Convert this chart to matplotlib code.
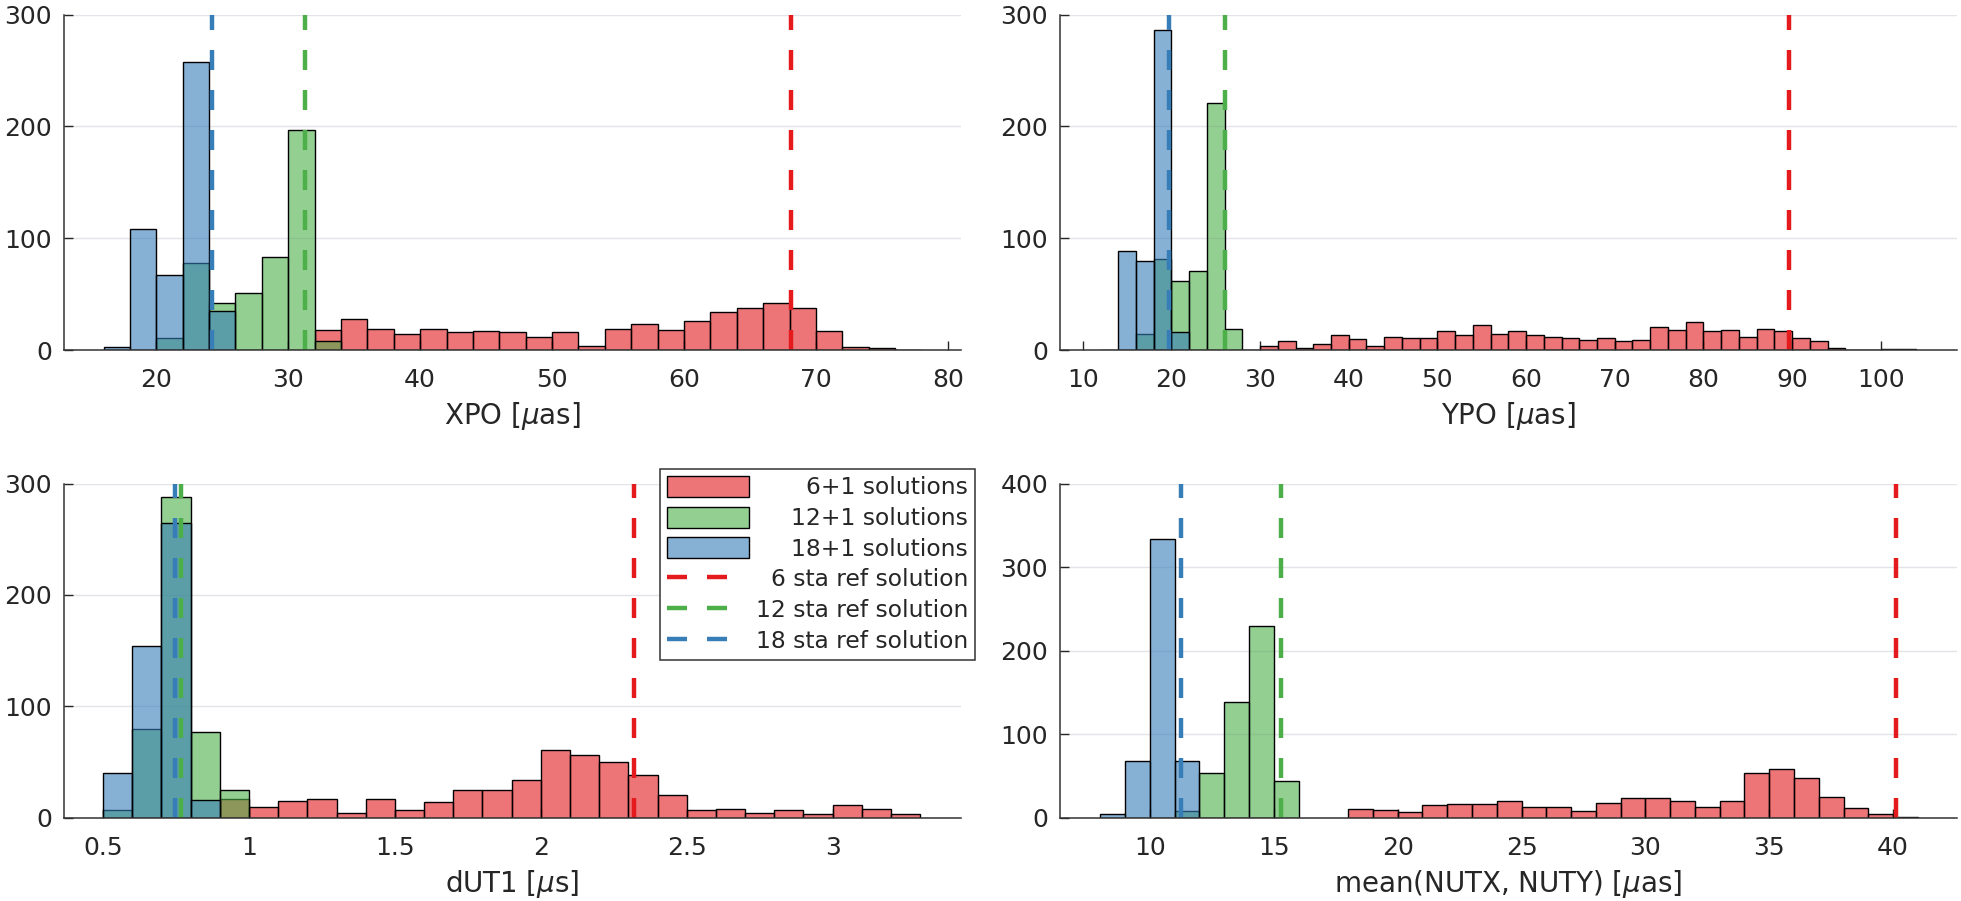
import numpy as np
import matplotlib
matplotlib.use('Agg')
import matplotlib.pyplot as plt
import matplotlib.ticker as ticker
import matplotlib.patches as mpatches
from matplotlib.colors import to_rgba
from matplotlib.legend_handler import HandlerPatch

plt.rcParams['font.family'] = ['DejaVu Sans']
plt.rcParams['mathtext.fontset'] = 'dejavusans'

red, green, blue = '#e41a1c', '#4daf4a', '#377eb8'
ink = '#262626'

# XPO [muas], bins of 2
xpo_bin = 2
xpo_red_start, xpo_green_start, xpo_blue_start = 32, 20, 16
xpo_red = [18, 28, 19, 14, 19, 16, 17, 16, 12, 16, 4, 19, 23, 18, 26, 34, 38, 42,
           38, 17, 3, 2, 0]
xpo_green = [11, 78, 42, 51, 83, 197, 8]
xpo_blue = [3, 108, 67, 258, 35]
xpo_refs = [68.14, 31.26, 24.2]

# YPO [muas], bins of 2
ypo_bin = 2
ypo_red_start, ypo_green_start, ypo_blue_start = 30, 16, 12
ypo_red = [4, 8, 2, 5, 13, 10, 4, 12, 11, 11, 17, 13, 22, 14, 17, 13, 12, 11, 9,
           11, 8, 9, 21, 18, 25, 17, 18, 12, 19, 17, 11, 8, 2, 0, 0, 1, 1]
ypo_green = [14, 81, 62, 71, 221, 19, 0]
ypo_blue = [0, 89, 80, 286, 16]
ypo_refs = [89.66, 26.02, 19.77]

# dUT1 [mus], bins of 0.1
dut_bin = 0.1
dut_red_start, dut_green_start, dut_blue_start = 0.9, 0.5, 0.5
dut_red = [17, 10, 15, 17, 4, 17, 7, 14, 25, 25, 34, 61, 56, 50, 38, 20, 7, 8, 4,
           7, 3, 11, 8, 3]
dut_green = [7, 80, 288, 77, 25]
dut_blue = [40, 154, 265, 16]
dut_refs = [2.32, 0.767, 0.748]

# mean(NUTX, NUTY) [muas], bins of 1
nut_bin = 1
nut_red_start, nut_green_start, nut_blue_start = 18, 11, 8
nut_red = [10, 9, 7, 15, 16, 16, 20, 13, 13, 8, 18, 24, 23, 20, 13, 20, 54, 58, 48,
           25, 12, 4, 1]
nut_green = [8, 54, 139, 230, 44]
nut_blue = [4, 68, 334, 68]
nut_refs = [40.1, 15.29, 11.25]

hist_labels = ['6+1 solutions', '12+1 solutions', '18+1 solutions']
ref_labels = ['6 sta ref solution', '12 sta ref solution', '18 sta ref solution']

fig = plt.figure(figsize=(19.61, 9.01), dpi=100)
W, H = 1961, 901


def make_axes(x0, x1, ytop, ybot):
    return fig.add_axes([x0 / W, 1 - ybot / H, (x1 - x0) / W, (ybot - ytop) / H])


def draw_panel(ax, binw, starts, counts, refs, ytop, xlim, xticks, xlabel):
    bars = []
    for start, cnt, col in zip(starts, counts, [red, green, blue]):
        edges = start + binw * np.arange(len(cnt))
        b = ax.bar(edges, cnt, width=binw, align='edge', facecolor=to_rgba(col, 0.6),
                   edgecolor='k', linewidth=1.0)
        bars.append(b)
    lines = []
    for x, col in zip(refs, [red, green, blue]):
        l, = ax.plot([x, x], [0, ytop], color=col, lw=3.2, dashes=(4.5, 4.5))
        lines.append(l)
    ax.set_xlim(*xlim)
    ax.set_ylim(0, ytop)
    ax.set_xticks(xticks)
    ax.set_yticks(np.arange(0, ytop + 1, 100))
    ax.xaxis.set_major_formatter(ticker.FormatStrFormatter('%g'))
    ax.set_axisbelow(True)
    ax.grid(True, axis='y', color='#e3e3ea', lw=1.0)
    for s in ['top', 'right']:
        ax.spines[s].set_visible(False)
    for s in ['left', 'bottom']:
        ax.spines[s].set_color('#333333')
        ax.spines[s].set_linewidth(1.1)
    ax.tick_params(direction='in', length=6.5, width=1.0, color=ink,
                   labelcolor=ink, labelsize=18)
    ax.tick_params(axis='x', pad=13)
    ax.tick_params(axis='y', pad=8.6)
    ax.set_xlabel(xlabel, fontsize=20, color=ink, labelpad=6)
    return bars, lines


ax1 = make_axes(64, 961, 14.7, 350)
ax2 = make_axes(1060, 1957, 14.7, 350)
ax3 = make_axes(64, 961, 483.6, 817.7)
ax4 = make_axes(1060, 1957, 483.6, 817.7)

draw_panel(ax1, xpo_bin, [xpo_red_start, xpo_green_start, xpo_blue_start],
           [xpo_red, xpo_green, xpo_blue], xpo_refs, 300, (13, 81),
           np.arange(20, 81, 10), r'XPO [$\mu$as]')
draw_panel(ax2, ypo_bin, [ypo_red_start, ypo_green_start, ypo_blue_start],
           [ypo_red, ypo_green, ypo_blue], ypo_refs, 300, (7.44, 108.6),
           np.arange(10, 101, 10), r'YPO [$\mu$as]')
bars, lines = draw_panel(ax3, dut_bin, [dut_red_start, dut_green_start, dut_blue_start],
                         [dut_red, dut_green, dut_blue], dut_refs, 300, (0.366, 3.44),
                         [0.5, 1, 1.5, 2, 2.5, 3], r'dUT1 [$\mu$s]')
draw_panel(ax4, nut_bin, [nut_red_start, nut_green_start, nut_blue_start],
           [nut_red, nut_green, nut_blue], nut_refs, 400, (6.37, 42.58),
           np.arange(10, 41, 5), r'mean(NUTX, NUTY) [$\mu$as]')


def wide_patch(legend, orig_handle, xdescent, ydescent, width, height, fontsize):
    return mpatches.Rectangle((-xdescent, -ydescent), width * 1.3, height)


handles = [b.patches[0] for b in bars] + lines
leg = ax3.legend(handles, hist_labels + ref_labels, loc='upper right',
                 bbox_to_anchor=(975 / W, 1 - 469 / H), bbox_transform=fig.transFigure,
                 borderaxespad=0, fontsize=16.8, handlelength=2.7, handleheight=1.0,
                 handletextpad=1.1, labelspacing=0.31, borderpad=0.3,
                 fancybox=False, framealpha=1, edgecolor='#333333',
                 handler_map={mpatches.Rectangle: HandlerPatch(patch_func=wide_patch)})
leg.get_frame().set_linewidth(1.1)
for t in leg.get_texts():
    t.set_color(ink)

# right-justify legend texts
fig.canvas.draw()
renderer = fig.canvas.get_renderer()
widths = [t.get_window_extent(renderer).width for t in leg.get_texts()]
wmax = max(widths)
for t, w in zip(leg.get_texts(), widths):
    t.set_position((wmax - w, 0))

fig.savefig('out.png', dpi=100)
